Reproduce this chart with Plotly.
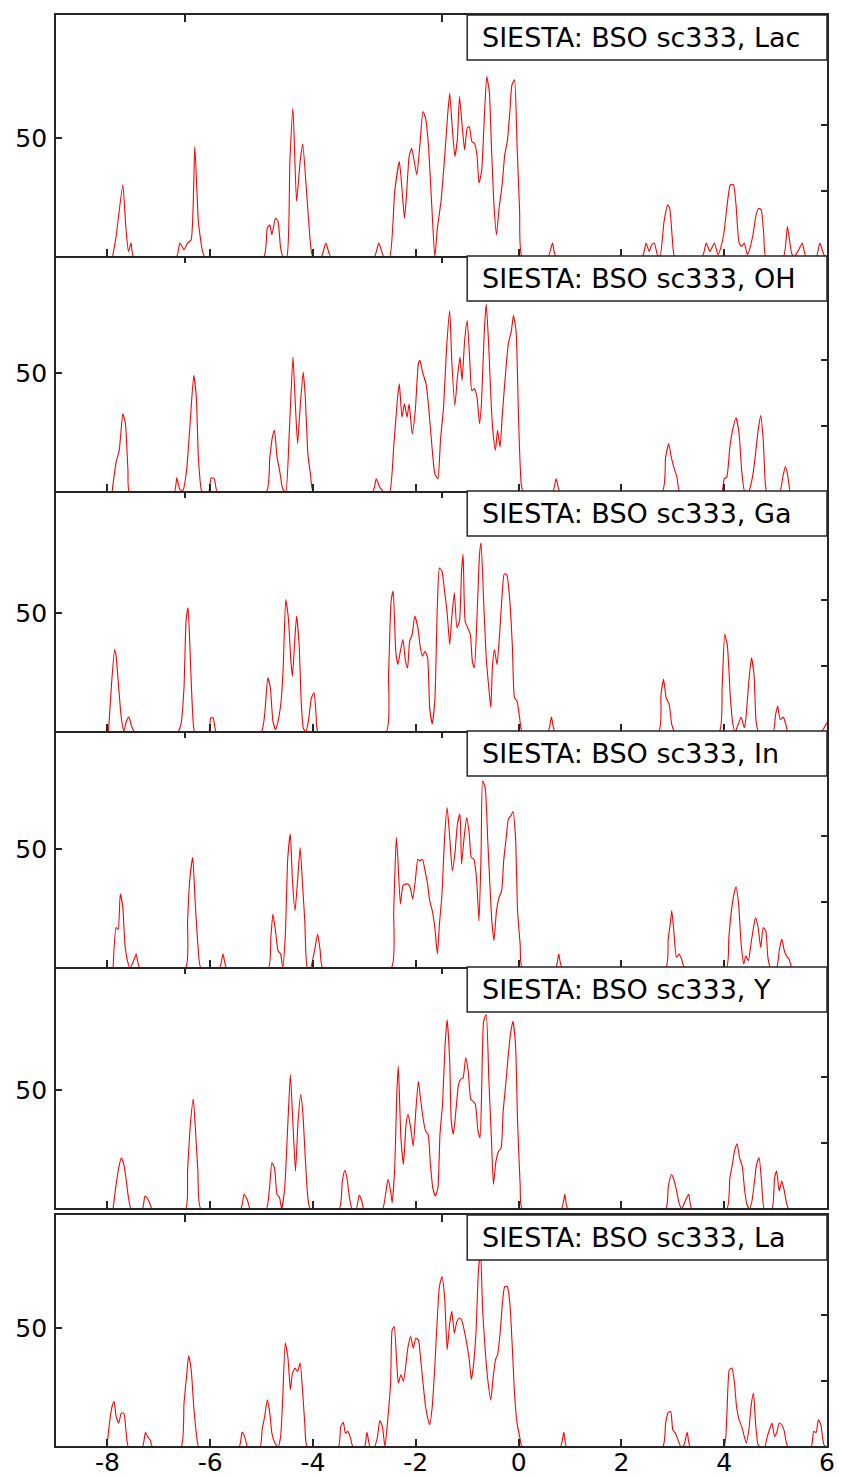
import plotly.graph_objects as go

# ---------------- data ----------------
labels = ["SIESTA: BSO sc333, Lac", "SIESTA: BSO sc333, OH", "SIESTA: BSO sc333, Ga",
          "SIESTA: BSO sc333, In", "SIESTA: BSO sc333, Y", "SIESTA: BSO sc333, La"]

x_lac = [-7.90, -7.83, -7.70, -7.64, -7.59, -7.54, -7.49, -6.66, -6.59, -6.51, -6.44, -6.37, -6.30, -6.23, -6.15, -6.10,
         -4.96, -4.89, -4.84, -4.80, -4.73, -4.68, -4.63, -4.58, -4.51, -4.45, -4.39, -4.32, -4.25, -4.20, -4.13, -4.06, -4.02, -3.98,
         -3.84, -3.75, -3.65, -2.81, -2.72, -2.62,
         -2.51, -2.41, -2.32, -2.27, -2.22, -2.18, -2.13, -2.08, -2.03, -1.98, -1.92, -1.86, -1.81, -1.75, -1.69, -1.63, -1.58,
         -1.51, -1.44, -1.38, -1.34, -1.29, -1.24, -1.19, -1.15, -1.10, -1.05, -1.00, -0.96, -0.91, -0.86, -0.81, -0.77, -0.72,
         -0.67, -0.62, -0.57, -0.53, -0.48, -0.43, -0.38, -0.32, -0.27, -0.22, -0.17, -0.13, -0.08, -0.03, 0.02, 0.07,
         0.57, 0.66, 0.73, 2.40, 2.48, 2.54, 2.59, 2.64, 2.70, 2.75, 2.83, 2.90, 2.94, 2.99, 3.04,
         3.57, 3.65, 3.72, 3.81, 3.88, 3.93, 3.99, 4.05, 4.12, 4.18, 4.23, 4.29, 4.34, 4.39, 4.45, 4.50, 4.56, 4.62, 4.67, 4.72,
         4.77, 4.81, 5.15, 5.23, 5.31, 5.36, 5.45, 5.52, 5.59, 5.79, 5.86, 5.94, 6.00]
y_lac = [0, 8.7, 30.5, 12.2, 2.4, 5.9, 0, 0, 5.9, 3.1, 5.9, 7.3, 46.6, 15.0, 2.4, 0,
         0, 12.2, 13.6, 9.4, 16.4, 15.0, 3.8, 0, 0, 40.3, 62.8, 23.5, 40.3, 47.6, 29.0, 8.0, 1.0, 0,
         0, 5.9, 0, 0, 5.9, 0,
         0, 27.7, 40.3, 29.0, 16.4, 26.3, 42.4, 45.9, 40.3, 34.7, 47.3, 61.4, 58.6, 45.9, 22.0, 0, 12.2,
         23.5, 41.7, 60.0, 69.1, 54.4, 42.4, 50.1, 67.7, 55.8, 45.2, 54.4, 55.0, 48.7, 48.0, 43.1, 31.2, 36.1,
         57.2, 76.1, 69.8, 47.3, 22.0, 9.4, 20.6, 30.5, 43.1, 48.7, 61.4, 72.6, 74.7, 47.3, 19.2, 0,
         0, 5.9, 0, 0, 5.9, 2.4, 5.2, 5.9, 1.0, 0, 15.0, 22.0, 20.6, 8.0, 0,
         0, 5.9, 2.4, 5.9, 1.0, 3.8, 9.4, 20.6, 30.5, 30.5, 22.0, 5.9, 4.5, 5.9, 1.0, 3.8, 9.4, 17.8, 20.6, 19.9,
         9.4, 0, 0, 12.9, 1.7, 0, 3.1, 5.9, 0, 0, 5.9, 1.0, 0]

x_oh = [-7.91, -7.83, -7.77, -7.70, -7.65, -7.60, -7.57, -6.70, -6.65, -6.59, -6.53, -6.46, -6.40, -6.32, -6.27, -6.23, -6.17, -6.13,
        -6.03, -5.98, -5.92, -5.86,
        -4.91, -4.84, -4.79, -4.75, -4.70, -4.65, -4.59, -4.53, -4.46, -4.39, -4.35, -4.30, -4.25, -4.19, -4.15, -4.10, -4.05, -3.99,
        -2.84, -2.77, -2.70, -2.62,
        -2.51, -2.43, -2.36, -2.32, -2.27, -2.22, -2.17, -2.13, -2.07, -2.01, -1.95, -1.92, -1.86, -1.80, -1.75, -1.69, -1.63, -1.57,
        -1.52, -1.46, -1.40, -1.34, -1.30, -1.24, -1.19, -1.14, -1.10, -1.05, -1.00, -0.95, -0.91, -0.86, -0.81, -0.76, -0.72,
        -0.67, -0.63, -0.58, -0.53, -0.49, -0.45, -0.41, -0.36, -0.32, -0.26, -0.20, -0.14, -0.10, -0.05, 0.00, 0.05, 0.09,
        0.66, 0.73, 0.81, 2.79, 2.86, 2.92, 2.97, 3.02, 3.08, 3.14,
        3.95, 4.00, 4.05, 4.11, 4.17, 4.23, 4.29, 4.34, 4.40, 4.47, 4.55, 4.61, 4.66, 4.71, 4.76, 4.80, 4.83,
        5.08, 5.14, 5.19, 5.23, 5.28]
y_oh = [0, 12.7, 17.6, 33.0, 29.0, 9.1, 0, 0, 6.0, 1.0, 0.7, 9.1, 26.0, 49.2, 40.0, 14.7, 0.7, 0,
        0, 6.0, 5.6, 0,
        0, 14.7, 23.2, 26.0, 14.7, 9.1, 1.4, 0, 26.0, 56.9, 40.0, 20.4, 35.8, 50.6, 40.0, 16.2, 7.7, 0,
        0, 5.6, 2.0, 0,
        0, 19.0, 38.6, 45.6, 31.6, 37.2, 31.6, 37.2, 24.6, 34.4, 54.1, 55.5, 49.9, 45.6, 35.8, 20.4, 7.7, 5.6,
        21.8, 35.8, 61.1, 76.5, 55.5, 36.5, 48.5, 56.9, 47.0, 63.9, 72.3, 55.5, 42.8, 43.5, 40.0, 28.8, 38.6,
        66.7, 79.4, 61.1, 35.8, 23.2, 17.6, 26.0, 19.0, 31.6, 48.5, 62.5, 68.1, 74.4, 68.1, 30.2, 3.5, 0,
        0, 5.6, 0, 0, 14.7, 20.4, 14.7, 10.5, 6.3, 0,
        0, 5.6, 6.3, 19.0, 26.7, 31.3, 24.6, 9.1, 0, 0, 6.3, 16.2, 26.0, 32.3, 21.8, 3.5, 0,
        0, 6.3, 10.8, 7.7, 0]

x_ga = [-7.98, -7.92, -7.86, -7.83, -7.78, -7.73, -7.68, -7.63, -7.58, -7.53, -7.47,
        -6.63, -6.57, -6.51, -6.47, -6.43, -6.38, -6.34, -6.30, -6.03, -5.99, -5.94, -5.88,
        -5.01, -4.94, -4.88, -4.83, -4.78, -4.73, -4.68, -4.62, -4.58, -4.53, -4.48, -4.43, -4.40, -4.36, -4.32, -4.27, -4.23,
        -4.19, -4.14, -4.09, -4.03, -3.98, -3.94, -3.90,
        -2.58, -2.53, -2.48, -2.44, -2.39, -2.35, -2.30, -2.25, -2.20, -2.16, -2.12, -2.07, -2.02, -1.96, -1.92, -1.87, -1.82,
        -1.77, -1.73, -1.68, -1.63, -1.58, -1.54, -1.49, -1.44, -1.39, -1.34, -1.30, -1.25, -1.20, -1.15, -1.11, -1.08, -1.04,
        -0.99, -0.94, -0.90, -0.86, -0.81, -0.76, -0.73, -0.68, -0.63, -0.58, -0.54, -0.51, -0.47, -0.42, -0.37, -0.32, -0.28,
        -0.23, -0.17, -0.12, -0.08, -0.03, 0.02, 0.07,
        0.57, 0.64, 0.71, 2.72, 2.77, 2.82, 2.87, 2.93, 2.98, 3.04,
        3.90, 3.96, 4.01, 4.06, 4.12, 4.17, 4.21, 4.26, 4.33, 4.39, 4.42, 4.48, 4.53, 4.58, 4.62, 4.67,
        4.95, 5.00, 5.04, 5.09, 5.15, 5.20, 5.24, 5.88, 6.00]
y_ga = [0, 20.1, 34.8, 32.0, 18.7, 6.0, 0.4, 4.6, 6.3, 2.5, 0,
        0, 3.2, 18.7, 46.8, 52.4, 27.1, 7.4, 0, 0, 6.0, 6.0, 0,
        0, 7.4, 22.9, 18.7, 4.6, 1.1, 4.6, 13.1, 27.1, 55.9, 48.2, 29.9, 23.6, 36.9, 48.9, 36.9, 13.1,
        1.8, 0, 4.6, 14.5, 16.6, 7.4, 0,
        0, 24.3, 55.2, 59.4, 34.1, 28.5, 34.1, 39.0, 29.9, 27.1, 38.3, 41.2, 48.9, 44.0, 36.9, 32.0, 34.1,
        31.3, 10.3, 3.5, 13.1, 53.8, 69.2, 67.8, 59.4, 50.3, 36.9, 48.2, 58.7, 44.0, 46.8, 67.8, 74.9, 46.8,
        44.0, 41.2, 29.9, 27.1, 48.2, 74.9, 79.8, 55.2, 31.3, 18.7, 10.3, 27.1, 34.8, 28.5, 41.2, 58.0, 66.7,
        66.3, 55.2, 35.5, 14.5, 13.1, 6.0, 0,
        0, 6.3, 0, 0, 15.9, 22.2, 14.5, 11.7, 3.2, 0,
        0, 18.7, 41.2, 36.9, 14.5, 3.2, 0, 2.5, 6.3, 1.8, 5.3, 21.5, 31.3, 24.3, 4.6, 0,
        0, 7.4, 11.0, 5.3, 6.3, 3.2, 0, 0, 4.0]

x_in = [-7.89, -7.83, -7.79, -7.75, -7.70, -7.66, -7.61, -7.56, -7.49, -7.44, -7.37,
        -6.48, -6.44, -6.40, -6.34, -6.29, -6.24, -6.18, -5.82, -5.75, -5.68,
        -4.87, -4.82, -4.78, -4.73, -4.68, -4.63, -4.59, -4.54, -4.49, -4.44, -4.40, -4.35, -4.30, -4.25, -4.20, -4.16, -4.11,
        -4.05, -3.97, -3.91, -3.86, -3.81,
        -2.48, -2.43, -2.38, -2.35, -2.30, -2.25, -2.20, -2.15, -2.11, -2.06, -2.01, -1.96, -1.92, -1.87, -1.82, -1.77, -1.73,
        -1.68, -1.63, -1.58, -1.54, -1.49, -1.44, -1.39, -1.34, -1.29, -1.24, -1.19, -1.14, -1.11, -1.06, -1.01, -0.96, -0.92,
        -0.87, -0.82, -0.77, -0.73, -0.70, -0.65, -0.60, -0.55, -0.52, -0.48, -0.43, -0.38, -0.33, -0.29, -0.24, -0.20, -0.15,
        -0.11, -0.06, -0.02, 0.03, 0.07,
        0.72, 0.78, 0.85, 2.86, 2.91, 2.95, 2.98, 3.02, 3.07, 3.12, 3.17, 3.23,
        4.04, 4.09, 4.14, 4.19, 4.23, 4.28, 4.33, 4.38, 4.42, 4.47, 4.52, 4.57, 4.61, 4.66, 4.71, 4.76, 4.81, 4.85, 4.90,
        5.02, 5.07, 5.12, 5.17, 5.21, 5.26, 5.31]
y_in = [0, 17.1, 16.4, 31.2, 25.6, 10.1, 3.1, 0, 3.1, 5.9, 0,
        0, 19.9, 36.8, 46.6, 27.0, 10.1, 0, 0, 5.9, 0,
        0, 12.9, 22.8, 15.7, 7.3, 5.9, 0, 12.9, 46.6, 56.5, 36.8, 24.2, 36.8, 50.8, 34.0, 19.9, 0,
        0, 7.3, 14.3, 7.3, 0,
        0, 24.2, 55.1, 46.6, 27.0, 34.7, 35.4, 35.4, 34.0, 29.1, 36.8, 45.9, 45.2, 45.9, 41.0, 35.4, 28.4,
        24.2, 17.1, 5.9, 18.5, 31.2, 55.1, 67.7, 55.1, 41.0, 48.0, 60.7, 64.9, 43.8, 55.1, 63.5, 56.5, 46.6,
        45.9, 38.2, 19.9, 48.0, 78.9, 76.1, 53.7, 31.2, 19.9, 11.5, 24.2, 29.8, 32.6, 45.2, 55.1, 62.8, 64.2,
        66.0, 55.1, 24.2, 10.1, 0,
        0, 5.9, 0, 0, 12.2, 18.5, 24.2, 15.7, 4.5, 5.9, 3.8, 0,
        0, 12.9, 24.2, 31.2, 34.3, 27.0, 10.1, 1.7, 5.2, 3.1, 10.1, 17.1, 21.3, 17.1, 8.7, 17.1, 15.7, 4.5, 0,
        0, 7.3, 12.2, 7.3, 5.2, 3.8, 0]

x_y = [-7.89, -7.83, -7.78, -7.73, -7.68, -7.64, -7.59, -7.54, -7.32, -7.27, -7.23, -7.18, -7.13,
       -6.48, -6.44, -6.39, -6.33, -6.28, -6.24, -6.18, -5.41, -5.34, -5.27, -5.22,
       -4.91, -4.84, -4.80, -4.75, -4.70, -4.65, -4.61, -4.55, -4.49, -4.44, -4.39, -4.34, -4.29, -4.24, -4.20, -4.15, -4.10, -4.05,
       -3.49, -3.43, -3.38, -3.34, -3.29, -3.24, -3.16, -3.10, -3.05, -3.01,
       -2.65, -2.58, -2.54, -2.49, -2.46, -2.41, -2.37, -2.34, -2.29, -2.24, -2.19, -2.15, -2.10, -2.05, -2.00, -1.95, -1.91,
       -1.86, -1.81, -1.76, -1.72, -1.67, -1.62, -1.57, -1.53, -1.48, -1.43, -1.39, -1.34, -1.31, -1.27, -1.22, -1.17, -1.13,
       -1.08, -1.03, -0.98, -0.93, -0.89, -0.84, -0.79, -0.75, -0.72, -0.68, -0.63, -0.58, -0.53, -0.49, -0.44, -0.39, -0.34,
       -0.30, -0.25, -0.20, -0.15, -0.11, -0.06, -0.02, 0.03, 0.07,
       0.83, 0.90, 0.96, 2.86, 2.91, 2.97, 3.01, 3.06, 3.12, 3.17, 3.24, 3.31, 3.37,
       4.05, 4.11, 4.16, 4.20, 4.25, 4.30, 4.35, 4.40, 4.44, 4.49, 4.54, 4.59, 4.63, 4.68, 4.73, 4.78,
       4.93, 4.98, 5.02, 5.07, 5.12, 5.17, 5.21, 5.25]
y_y = [0, 10.4, 17.4, 21.6, 18.8, 13.2, 4.8, 0, 0, 5.5, 4.8, 2.7, 0,
       0, 16.0, 34.5, 46.5, 30.9, 16.0, 0, 0, 6.2, 3.4, 0,
       0, 10.4, 19.5, 17.4, 6.2, 4.8, 0, 9.0, 35.7, 56.7, 35.7, 16.0, 37.1, 48.3, 41.3, 21.6, 4.8, 0,
       0, 11.8, 16.3, 13.2, 4.8, 0, 0, 5.9, 3.4, 0,
       0, 7.6, 12.5, 7.6, 2.7, 17.4, 48.3, 60.3, 30.1, 18.8, 35.7, 39.9, 34.3, 26.5, 41.3, 53.9, 46.9,
       38.5, 32.9, 31.5, 20.2, 9.0, 5.5, 9.0, 31.5, 44.1, 69.4, 79.9, 62.4, 37.1, 31.5, 41.3, 52.5, 54.6,
       55.3, 63.8, 58.1, 46.2, 45.5, 44.1, 32.9, 30.1, 48.3, 79.2, 82.0, 55.3, 30.1, 10.4, 20.2, 24.4, 25.8,
       41.3, 52.5, 65.2, 75.0, 79.2, 69.4, 37.1, 10.4, 0,
       0, 6.2, 0, 0, 9.0, 14.6, 13.2, 9.0, 2.7, 0, 3.4, 6.2, 0,
       0, 13.2, 18.8, 24.4, 27.5, 21.6, 18.1, 7.6, 2.0, 0, 3.4, 11.8, 18.8, 21.6, 10.4, 0,
       0, 13.2, 16.0, 7.6, 11.8, 7.6, 2.7, 0]

x_la = [-8.01, -7.96, -7.91, -7.87, -7.83, -7.78, -7.73, -7.68, -7.64, -7.59, -7.32, -7.26, -7.22, -7.17, -7.12,
        -6.57, -6.51, -6.46, -6.42, -6.37, -6.32, -6.27, -6.22, -5.44, -5.38, -5.33, -5.27,
        -5.03, -4.99, -4.94, -4.89, -4.84, -4.80, -4.74, -4.68, -4.63, -4.59, -4.54, -4.49, -4.44, -4.40, -4.35, -4.30, -4.25,
        -4.20, -4.16, -4.11,
        -3.51, -3.46, -3.41, -3.37, -3.32, -3.27, -3.22, -3.00, -2.95, -2.89, -2.81, -2.75, -2.70, -2.65, -2.60,
        -2.54, -2.49, -2.46, -2.42, -2.37, -2.34, -2.29, -2.24, -2.19, -2.15, -2.10, -2.05, -2.00, -1.95, -1.91, -1.86, -1.81,
        -1.76, -1.73, -1.68, -1.63, -1.58, -1.54, -1.49, -1.44, -1.39, -1.34, -1.30, -1.25, -1.20, -1.15, -1.11, -1.06, -1.01,
        -0.96, -0.92, -0.88, -0.83, -0.78, -0.74, -0.70, -0.65, -0.60, -0.54, -0.50, -0.45, -0.41, -0.36, -0.32, -0.27, -0.22,
        -0.17, -0.12, -0.08, -0.03, 0.02, 0.07,
        0.81, 0.88, 0.94, 2.80, 2.86, 2.91, 2.96, 3.00, 3.05, 3.10, 3.16, 3.22, 3.28, 3.34,
        3.99, 4.05, 4.10, 4.15, 4.20, 4.24, 4.29, 4.34, 4.39, 4.43, 4.48, 4.53, 4.57, 4.61, 4.66, 4.72,
        4.79, 4.83, 4.88, 4.93, 4.98, 5.02, 5.07, 5.12, 5.17, 5.21, 5.25,
        5.69, 5.74, 5.79, 5.83, 5.88, 5.94, 6.00]
y_la = [0, 10.1, 17.1, 19.2, 12.9, 10.1, 14.3, 14.3, 7.3, 0, 0, 6.2, 4.5, 3.1, 0,
        0, 18.5, 29.8, 38.5, 32.6, 17.1, 5.9, 0, 0, 6.2, 4.5, 0,
        0, 7.3, 12.9, 19.9, 14.3, 5.9, 1.7, 0, 4.5, 19.9, 43.8, 38.2, 24.2, 31.2, 33.3, 31.9, 35.4,
        22.8, 10.1, 0,
        0, 8.7, 10.4, 5.9, 6.6, 3.8, 0, 0, 6.2, 0, 0, 3.8, 11.2, 8.7, 0,
        12.9, 27.0, 49.4, 50.8, 35.4, 27.0, 30.5, 27.7, 35.4, 42.4, 46.6, 41.7, 45.9, 45.2, 38.2, 27.0, 17.1,
        11.5, 9.4, 17.1, 34.0, 55.1, 67.7, 71.9, 63.5, 41.0, 52.2, 57.2, 48.0, 52.9, 54.4, 53.7, 49.4, 43.8,
        36.8, 28.4, 34.0, 48.0, 74.7, 82.4, 57.9, 41.0, 28.4, 19.9, 28.4, 36.8, 38.9, 48.0, 59.3, 67.7, 67.7,
        60.7, 41.0, 22.8, 10.1, 4.5, 0,
        0, 6.2, 0, 0, 10.1, 14.6, 15.0, 7.3, 5.9, 3.1, 0, 1.0, 6.2, 0,
        0, 12.9, 32.6, 33.3, 27.0, 17.1, 11.5, 8.7, 4.5, 1.7, 7.3, 18.5, 22.8, 10.1, 1.0, 0,
        0, 3.8, 7.3, 10.1, 4.5, 5.9, 10.1, 9.4, 6.6, 1.7, 0,
        0, 6.6, 6.2, 11.5, 9.4, 1.0, 0]

series_x = [x_lac, x_oh, x_ga, x_in, x_y, x_la]
series_y = [y_lac, y_oh, y_ga, y_in, y_y, y_la]

x_range = [-9, 6]
x_ticks = [-8, -6, -4, -2, 0, 2, 4, 6]
x_ticktext = ["-8", "-6", "-4", "-2", "0", "2", "4", "6"]
y_ticks = [50]
top_ticks = [-6.5, -1.5]
right_ticks = [27.8, 55.7]
box_x0 = -1.0
label_x = -0.76

# ---------------- layout geometry (pixels) ----------------
W, H = 841, 1478
M_L, M_R, M_T, M_B = 56, 14, 15, 32
panels_px = [(15, 256), (256, 491), (491, 731), (731, 967), (967, 1208), (1215, 1446)]
own_top_line = [True, False, False, False, False, True]   # stacked panels share the separator line
px_per_unit = 2.372
y_floor = 0.45          # keeps the zero baseline of the curve hidden under the axis line
box_h = 45
plot_h = H - M_T - M_B
plot_bottom = H - M_B

AX = "#262626"
LW = 1.7
FONT = "DejaVu Sans"


def ax_id(prefix, n):
    return prefix if n == 1 else f"{prefix}{n}"


fig = go.Figure()
layout = {}
shapes = []
annotations = []

for i in range(6):
    n = i + 1
    top_px, bot_px = panels_px[i]
    hpx = bot_px - top_px
    dom = [(plot_bottom - bot_px) / plot_h, (plot_bottom - top_px) / plot_h]
    yrange = [y_floor, y_floor + hpx / px_per_unit]

    fig.add_trace(go.Scatter(x=series_x[i], y=series_y[i], mode="lines",
                             line=dict(color="#ff0000", width=1.1, shape="spline", smoothing=0.5),
                             xaxis=ax_id("x", n), yaxis=ax_id("y", n),
                             showlegend=False, hoverinfo="skip"))
    # invisible trace for the extra (top / right) tick axes
    fig.add_trace(go.Scatter(x=[None], y=[None], mode="lines",
                             xaxis=f"x{n + 6}", yaxis=f"y{n + 6}",
                             showlegend=False, hoverinfo="skip"))

    layout[ax_id("xaxis", n)] = dict(
        domain=[0, 1], anchor=ax_id("y", n), range=x_range, automargin=False,
        tickmode="array", tickvals=x_ticks, ticktext=x_ticktext,
        ticks="inside", ticklen=7, tickwidth=1.5, tickcolor=AX,
        showline=True, linecolor=AX, linewidth=LW, mirror=own_top_line[i],
        showgrid=False, zeroline=False, showticklabels=(n == 6), ticklabelstandoff=-7,
        tickfont=dict(family=FONT, size=25, color="black"))
    layout[ax_id("yaxis", n)] = dict(
        domain=dom, anchor=ax_id("x", n), range=yrange, automargin=False,
        tickmode="array", tickvals=y_ticks, ticktext=[str(v) for v in y_ticks],
        ticks="inside", ticklen=6, tickwidth=1.5, tickcolor=AX,
        showline=True, linecolor=AX, linewidth=LW, mirror=True,
        showgrid=False, zeroline=False, ticklabelstandoff=2,
        tickfont=dict(family=FONT, size=25, color="black"))
    layout[f"xaxis{n + 6}"] = dict(
        overlaying=ax_id("x", n), side="top", anchor=ax_id("y", n), range=x_range, automargin=False,
        tickmode="array", tickvals=top_ticks, ticks="inside", ticklen=7, tickwidth=1.5,
        tickcolor=AX, showticklabels=False, showline=False, showgrid=False, zeroline=False)
    layout[f"yaxis{n + 6}"] = dict(
        overlaying=ax_id("y", n), side="right", anchor=ax_id("x", n), range=yrange, automargin=False,
        tickmode="array", tickvals=right_ticks, ticks="inside", ticklen=6, tickwidth=1.5,
        tickcolor=AX, showticklabels=False, showline=False, showgrid=False, zeroline=False)

    shapes.append(dict(type="rect", xref=ax_id("x", n), yref=f"{ax_id('y', n)} domain",
                       x0=box_x0, x1=x_range[1], y0=1 - box_h / hpx, y1=1,
                       line=dict(color=AX, width=1.5), fillcolor="white", layer="above"))
    annotations.append(dict(text=labels[i], xref=ax_id("x", n), yref=f"{ax_id('y', n)} domain",
                            x=label_x, y=1 - (box_h / 2) / hpx, xanchor="left", yanchor="middle",
                            showarrow=False, font=dict(family=FONT, size=27, color="black")))

fig.update_layout(**layout)
fig.update_layout(width=W, height=H, margin=dict(l=M_L, r=M_R, t=M_T, b=M_B, pad=0, autoexpand=False),
                  paper_bgcolor="white", plot_bgcolor="white",
                  font=dict(family=FONT, size=25, color="black"),
                  shapes=shapes, annotations=annotations, showlegend=False)

fig.write_html("out.html", config={"displayModeBar": False},
               post_script="document.body.style.margin='0px';document.body.style.overflow='hidden';")
